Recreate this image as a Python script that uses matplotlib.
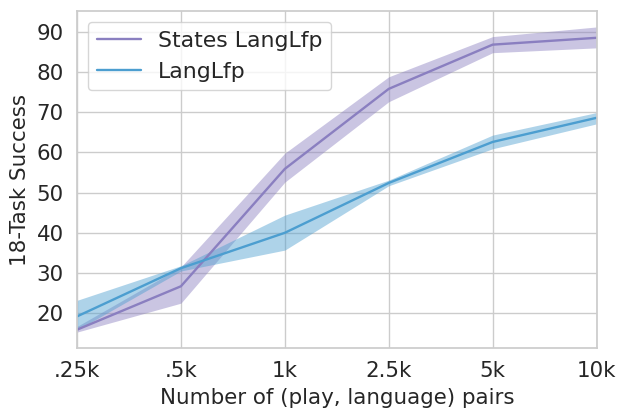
import matplotlib
matplotlib.use("Agg")
import matplotlib.pyplot as plt
import seaborn as sns
import numpy as np

sns.set_theme(style="whitegrid")
plt.rcParams['font.family'] = ['DejaVu Sans']

x_labels = [".25k", ".5k", "1k", "2.5k", "5k", "10k"]
states_mean = [15.9, 26.7, 55.9, 75.8, 86.8, 88.5]
states_low = [15.3, 22.5, 52.6, 72.6, 84.8, 86.0]
states_high = [16.7, 31.5, 59.8, 78.8, 88.8, 91.2]
lang_mean = [19.2, 31.2, 40.0, 52.4, 62.6, 68.6]
lang_low = [15.8, 30.5, 35.7, 51.7, 60.9, 67.1]
lang_high = [23.2, 31.8, 44.4, 53.1, 64.3, 69.9]

purple = "#8a7fc0"
blue = "#4c9ed0"

fig, ax = plt.subplots(figsize=(6.26, 4.18), dpi=100)
xs = np.arange(len(x_labels))
ax.fill_between(xs, states_low, states_high, color=purple, alpha=0.45, linewidth=0)
ax.plot(xs, states_mean, color=purple, lw=1.7, label="States LangLfp")
ax.fill_between(xs, lang_low, lang_high, color=blue, alpha=0.45, linewidth=0)
ax.plot(xs, lang_mean, color=blue, lw=1.7, label="LangLfp")

ax.set_xlim(0, 5)
ax.set_ylim(11.3, 95.2)
ax.set_xticks(xs)
ax.set_xticklabels(x_labels)
ax.set_yticks([20, 30, 40, 50, 60, 70, 80, 90])
ax.tick_params(labelsize=15.4, colors="#262626", pad=3.5)
ax.set_xlabel("Number of (play, language) pairs", fontsize=15.4, color="#262626", labelpad=5)
ax.set_ylabel("18-Task Success", fontsize=15.4, color="#262626", labelpad=5)
for s in ax.spines.values():
    s.set_color("#cccccc")
leg = ax.legend(loc="upper left", fontsize=15.8, frameon=True)
fig.subplots_adjust(left=0.123, right=0.953, top=0.974, bottom=0.167)
fig.savefig("out.png", dpi=100)
